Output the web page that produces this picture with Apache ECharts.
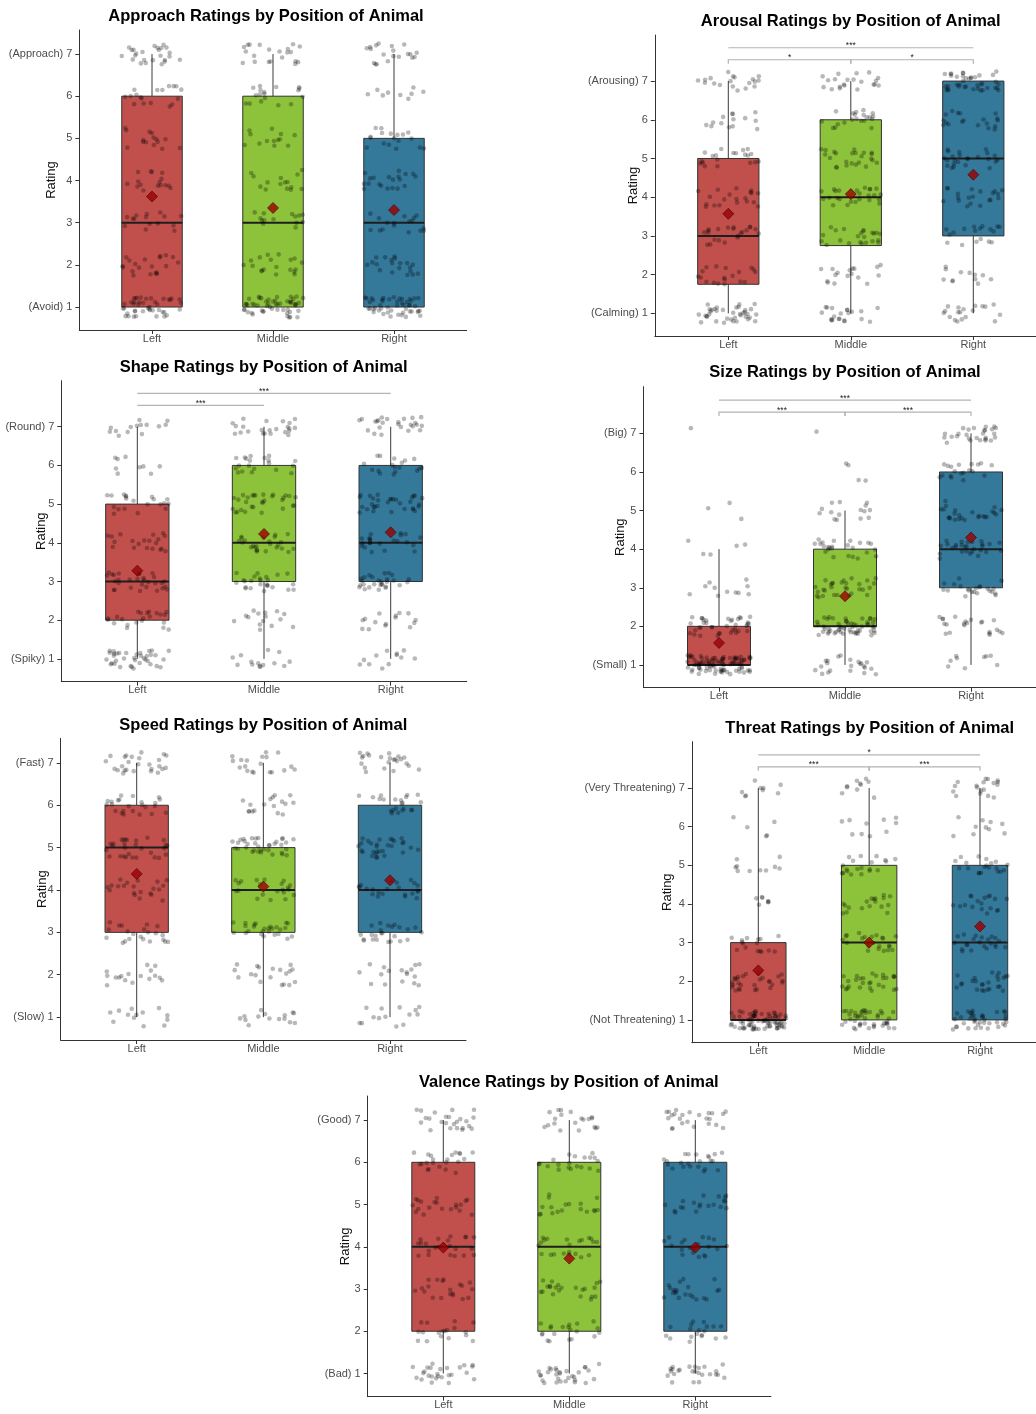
<!DOCTYPE html>
<html>
<head>
<meta charset="utf-8">
<title>Ratings by Position of Animal</title>
<script src="https://cdn.jsdelivr.net/npm/echarts@6/dist/echarts.min.js"></script>
<style>
  html, body { margin: 0; padding: 0; background: #ffffff; }
  #chart { width: 1036px; height: 1414px; }
</style>
</head>
<body>
<div id="chart"></div>
<script>
// ---- data -----------------------------------------------------------------
const positions = ['Left', 'Middle', 'Right'];
const ratingLevels = [1, 2, 3, 4, 5, 6, 7];

// box statistics per position: [lower whisker, Q1, median, Q3, upper whisker]
// counts: number of responses at rating 1..7 per position
const approachEnds = ['Avoid', 'Approach'];
const approachStats = [[1, 1, 3, 6, 7], [1, 1, 3, 6, 7], [1, 1, 3, 5, 7]];
const approachMeans = [3.62, 3.35, 3.30];
const approachCounts = [[43, 20, 15, 16, 15, 18, 25], [52, 19, 14, 15, 13, 18, 21], [48, 20, 17, 20, 18, 9, 20]];
const approachSig = [];

const arousalEnds = ['Calming', 'Arousing'];
const arousalStats = [[1, 1.75, 3, 5, 7], [1, 2.75, 4, 6, 7], [1, 3, 5, 7, 7]];
const arousalMeans = [3.57, 4.08, 4.58];
const arousalCounts = [[38, 19, 22, 20, 20, 14, 19], [21, 17, 23, 25, 24, 21, 21], [19, 12, 18, 20, 24, 19, 40]];
const arousalSig = [[1, 2, '*'], [2, 3, '*'], [1, 3, '***']];

const shapeEnds = ['Spiky', 'Round'];
const shapeStats = [[1, 2, 3, 5, 7], [1, 3, 4, 6, 7], [1, 3, 4, 6, 7]];
const shapeMeans = [3.28, 4.23, 4.27];
const shapeCounts = [[37, 22, 30, 20, 20, 9, 14], [14, 15, 25, 25, 30, 20, 23], [12, 15, 28, 22, 32, 18, 25]];
const shapeSig = [[1, 2, '***'], [1, 3, '***']];

const sizeEnds = ['Small', 'Big'];
const sizeStats = [[1, 1, 1, 2, 4], [1, 2, 2, 4, 5], [1, 3, 4, 6, 7]];
const sizeMeans = [1.57, 2.78, 4.30];
const sizeCounts = [[94, 38, 11, 5, 3, 0, 1], [22, 55, 30, 25, 15, 4, 1], [9, 22, 22, 28, 25, 19, 27]];
const sizeSig = [[1, 2, '***'], [2, 3, '***'], [1, 3, '***']];

const speedEnds = ['Slow', 'Fast'];
const speedStats = [[1, 3, 5, 6, 7], [1, 3, 4, 5, 7], [1, 3, 4, 6, 7]];
const speedMeans = [4.38, 4.08, 4.23];
const speedCounts = [[13, 17, 22, 21, 29, 24, 26], [15, 19, 26, 21, 35, 17, 19], [14, 17, 24, 22, 30, 22, 23]];
const speedSig = [];

const threatEnds = ['Not Threatening', 'Very Threatening'];
const threatStats = [[1, 1, 1, 3, 7], [1, 1, 3, 5, 7], [1, 1, 3, 5, 7]];
const threatMeans = [2.28, 3.00, 3.42];
const threatCounts = [[77, 28, 16, 7, 10, 5, 9], [44, 28, 22, 18, 20, 10, 10], [39, 25, 22, 18, 20, 10, 18]];
const threatSig = [[1, 2, '***'], [2, 3, '***'], [1, 3, '*']];

const valenceEnds = ['Bad', 'Good'];
const valenceStats = [[1, 2, 4, 6, 7], [1, 2, 4, 6, 7], [1, 2, 4, 6, 7]];
const valenceMeans = [3.98, 3.72, 3.98];
const valenceCounts = [[26, 18, 20, 22, 20, 22, 24], [30, 20, 22, 22, 18, 20, 20], [25, 19, 21, 21, 20, 22, 24]];
const valenceSig = [];

// ---- panels & layout ------------------------------------------------------
const panels = [
  { title: 'Approach Ratings by Position of Animal', ends: approachEnds, stats: approachStats, means: approachMeans, counts: approachCounts, sig: approachSig },
  { title: 'Arousal Ratings by Position of Animal', ends: arousalEnds, stats: arousalStats, means: arousalMeans, counts: arousalCounts, sig: arousalSig },
  { title: 'Shape Ratings by Position of Animal', ends: shapeEnds, stats: shapeStats, means: shapeMeans, counts: shapeCounts, sig: shapeSig },
  { title: 'Size Ratings by Position of Animal', ends: sizeEnds, stats: sizeStats, means: sizeMeans, counts: sizeCounts, sig: sizeSig },
  { title: 'Speed Ratings by Position of Animal', ends: speedEnds, stats: speedStats, means: speedMeans, counts: speedCounts, sig: speedSig },
  { title: 'Threat Ratings by Position of Animal', ends: threatEnds, stats: threatStats, means: threatMeans, counts: threatCounts, sig: threatSig },
  { title: 'Valence Ratings by Position of Animal', ends: valenceEnds, stats: valenceStats, means: valenceMeans, counts: valenceCounts, sig: valenceSig }
];

// grid: [left, top, width, height]; y: axis range; title: [centerX, centerY]
const layouts = [
  { grid: [79.4, 30, 387.2, 300], y: [0.455, 7.57], title: [266, 16.5], nameGap: 21, tips: false },
  { grid: [654.8, 35, 392, 301], y: [0.414, 8.19], title: [850.7, 21], nameGap: 15, tips: true },
  { grid: [61.3, 380.7, 405.4, 301], y: [0.41, 8.19], title: [263.7, 367], nameGap: 13, tips: false },
  { grid: [643.4, 386.7, 403.2, 301], y: [0.41, 8.21], title: [845, 372.5], nameGap: 16, tips: true },
  { grid: [60.7, 738.3, 405.3, 301.7], y: [0.46, 7.58], title: [263.3, 725.5], nameGap: 12, tips: false },
  { grid: [691.8, 741.7, 354.7, 301], y: [0.41, 8.2], title: [869.7, 728], nameGap: 18, tips: true },
  { grid: [367.7, 1096, 403.2, 300.7], y: [0.45, 7.57], title: [568.8, 1082], nameGap: 15.7, tips: false }
];

const FONT = "'Liberation Sans', Arial, sans-serif";
const fills = ['#c1504d', '#8dc33a', '#34789a'];
const boxHalf = 0.25;        // half box width, in position units
const jitterHalf = 0.25;     // half jitter spread, both directions
const tierY = [7.55, 7.86];  // bracket heights
const tipLen = 0.1;

// deterministic jitter offset in [-0.5, 0.5) from an integer key
function spread(key) {
  let h = (key * 2654435761) >>> 0;
  h ^= h >>> 15; h = Math.imul(h, 0x2c1b3c6d) >>> 0;
  h ^= h >>> 12; h = Math.imul(h, 0x297a2d39) >>> 0;
  h ^= h >>> 15;
  return (h >>> 0) / 4294967296 - 0.5;
}

function jitter(counts, seed) {
  const pts = [];
  let n = seed;
  counts.forEach((levelCounts, g) => {
    levelCounts.forEach((c, li) => {
      for (let k = 0; k < c; k++) {
        n += 2;
        pts.push([g + 1 + spread(n) * 2 * jitterHalf, ratingLevels[li] + spread(n + 1) * 2 * jitterHalf]);
      }
    });
  });
  return pts;
}

function renderBox(params, api) {
  const x = api.value(0);
  const lo = api.value(1), q1 = api.value(2), med = api.value(3), q3 = api.value(4), hi = api.value(5);
  const tl = api.coord([x - boxHalf, q3]);
  const br = api.coord([x + boxHalf, q1]);
  const top = api.coord([x, hi]);
  const upper = api.coord([x, q3]);
  const lower = api.coord([x, q1]);
  const bottom = api.coord([x, lo]);
  const mL = api.coord([x - boxHalf, med]);
  const mR = api.coord([x + boxHalf, med]);
  const lineStyle = { stroke: '#3a3a3a', lineWidth: 1 };
  return {
    type: 'group',
    children: [
      { type: 'line', shape: { x1: top[0], y1: top[1], x2: upper[0], y2: upper[1] }, style: lineStyle },
      { type: 'line', shape: { x1: lower[0], y1: lower[1], x2: bottom[0], y2: bottom[1] }, style: lineStyle },
      { type: 'rect', shape: { x: tl[0], y: tl[1], width: br[0] - tl[0], height: br[1] - tl[1] },
        style: { fill: fills[params.dataIndex], stroke: '#333333', lineWidth: 1 } },
      { type: 'line', shape: { x1: mL[0], y1: mL[1], x2: mR[0], y2: mR[1] }, style: { stroke: '#1e1e1e', lineWidth: 2 } }
    ]
  };
}

function makeBracketRenderer(labels, withTips) {
  return function (params, api) {
    const x1 = api.value(0), x2 = api.value(1), y = api.value(2);
    const p1 = api.coord([x1, y]);
    const p2 = api.coord([x2, y]);
    // the wide comparison carries no end tips
    const tipped = withTips && (x2 - x1) <= 1;
    const tip = tipped ? Math.abs(api.coord([x1, y - tipLen])[1] - p1[1]) : 0;
    return {
      type: 'group',
      children: [
        { type: 'polyline',
          shape: { points: [[p1[0], p1[1] + tip], [p1[0], p1[1]], [p2[0], p2[1]], [p2[0], p2[1] + tip]] },
          style: { stroke: '#b3b3b3', lineWidth: 1.2, fill: null } },
        { type: 'text',
          style: { text: labels[params.dataIndex], x: (p1[0] + p2[0]) / 2, y: p1[1] + 2.5,
                   align: 'center', verticalAlign: 'bottom', fontSize: 8.5, fontFamily: FONT, fill: '#222' } }
      ]
    };
  };
}

const option = {
  animation: false,
  backgroundColor: '#ffffff',
  textStyle: { fontFamily: FONT },
  title: [], grid: [], xAxis: [], yAxis: [], series: []
};

panels.forEach((p, i) => {
  const L = layouts[i];
  option.title.push({
    text: p.title, left: L.title[0], top: L.title[1], textAlign: 'center', textVerticalAlign: 'middle', padding: 0,
    textStyle: { fontSize: 16.5, fontWeight: 'bold', color: '#000000', fontFamily: FONT }
  });
  option.grid.push({
    left: L.grid[0], top: L.grid[1], width: L.grid[2], height: L.grid[3],
    containLabel: false, outerBoundsMode: 'none'
  });
  option.xAxis.push({
    type: 'value', gridIndex: i, min: 0.4, max: 3.6,
    axisLine: { show: true, onZero: false, lineStyle: { color: '#333333', width: 1 } },
    axisTick: { show: true, customValues: [1, 2, 3], length: 4, lineStyle: { color: '#333333' } },
    axisLabel: { customValues: [1, 2, 3], formatter: v => positions[Math.round(v) - 1],
                 color: '#4d4d4d', fontSize: 11, margin: 3, fontFamily: FONT },
    splitLine: { show: false }
  });
  option.yAxis.push({
    type: 'value', gridIndex: i, min: L.y[0], max: L.y[1],
    name: 'Rating', nameLocation: 'middle', nameGap: L.nameGap, nameMoveOverlap: false,
    nameTextStyle: { fontSize: 13, color: '#111111', fontFamily: FONT },
    axisLine: { show: true, onZero: false, lineStyle: { color: '#333333', width: 1 } },
    axisTick: { show: true, customValues: ratingLevels, length: 4, lineStyle: { color: '#333333' } },
    axisLabel: {
      customValues: ratingLevels, color: '#4d4d4d', fontSize: 11, margin: 7, fontFamily: FONT,
      formatter: v => v === 7 ? '(' + p.ends[1] + ') 7' : (v === 1 ? '(' + p.ends[0] + ') 1' : String(v))
    },
    splitLine: { show: false }
  });

  // boxes
  option.series.push({
    type: 'custom', name: p.title + ' boxes', xAxisIndex: i, yAxisIndex: i, z: 2,
    renderItem: renderBox,
    encode: { x: 0, y: [1, 2, 3, 4, 5] },
    data: p.stats.map((s, g) => [g + 1].concat(s))
  });
  // individual responses
  option.series.push({
    type: 'scatter', name: p.title + ' responses', xAxisIndex: i, yAxisIndex: i, z: 3,
    symbol: 'circle', symbolSize: 4.6, silent: true,
    itemStyle: { color: 'rgba(0,0,0,0.35)' },
    data: jitter(p.counts, i * 4001)
  });
  // means
  option.series.push({
    type: 'scatter', name: p.title + ' mean', xAxisIndex: i, yAxisIndex: i, z: 4,
    symbol: 'diamond', symbolSize: 11,
    itemStyle: { color: '#9a0000', borderColor: '#4d0000', borderWidth: 0.8 },
    data: p.means.map((m, g) => [g + 1, m])
  });
  // significance brackets
  if (p.sig.length) {
    const labels = p.sig.map(s => s[2]);
    option.series.push({
      type: 'custom', name: p.title + ' comparisons', xAxisIndex: i, yAxisIndex: i, z: 5,
      renderItem: makeBracketRenderer(labels, L.tips),
      encode: { x: [0, 1], y: 2 },
      data: p.sig.map(s => [s[0], s[1], tierY[(s[1] - s[0]) > 1 ? 1 : 0]])
    });
  }
});

const chart = echarts.init(document.getElementById('chart'), null, { renderer: 'canvas' });
chart.setOption(option);
</script>
</body>
</html>
